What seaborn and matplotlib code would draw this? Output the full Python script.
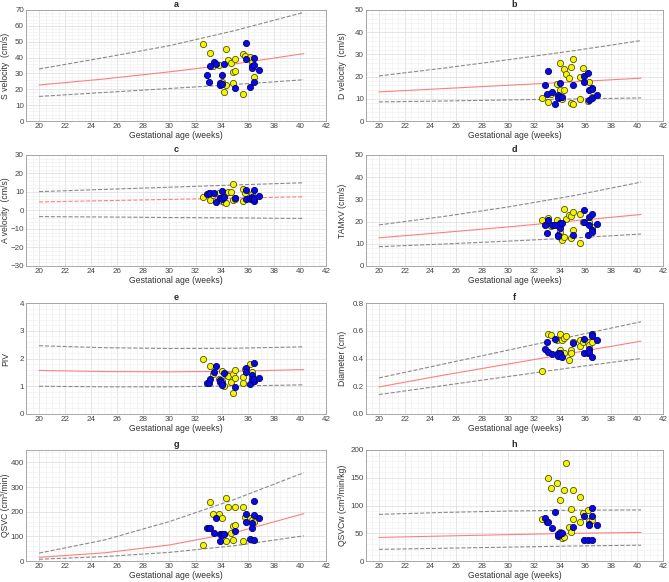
import numpy as np
import pandas as pd
import seaborn as sns
import matplotlib.pyplot as plt
from matplotlib.ticker import AutoMinorLocator, MultipleLocator

# gestational ages of the two groups (weeks)
x_yellow = [32.6, 33.1, 33.3, 33.8, 34.0, 34.0, 34.2, 34.3, 34.3, 34.5, 34.7,
            34.9, 34.9, 35.0, 35.0, 35.6, 35.6, 35.8, 36.2, 36.3, 36.5]
x_blue = [32.9, 33.0, 33.1, 33.4, 33.6, 33.9, 33.9, 34.0, 34.0, 34.2,
          35.0, 35.9, 35.9, 36.2, 36.3, 36.3, 36.5, 36.5, 36.5, 36.9]

# reference curve ages
ref_age = [20, 25, 30, 35, 40.3]

# a: S velocity
a_yellow = [48.5, 43, 34.5, 35.5, 24.5, 23.5, 18, 45.5, 23, 38.5, 36.5,
            31, 24, 31.5, 39, 42, 17, 41, 40.5, 37.5, 28]
a_blue = [29, 24.5, 35, 37, 36, 24, 22.5, 29, 23.5, 36,
          20.5, 49, 39, 21.5, 34.5, 33.5, 40, 35.5, 24.5, 32]
a_mean = [22.7, 26.5, 31, 36, 42.5]
a_upper = [32.8, 40, 47.5, 57, 68.5]
a_lower = [15.5, 18, 20.5, 23, 26]

# b: D velocity
b_yellow = [10.5, 8.5, 12, 16.5, 26, 14, 10, 23.5, 14, 21, 19.5,
            24.5, 8, 7.5, 28, 20, 10, 24, 9, 17.5, 11]
b_blue = [16.3, 12, 22.3, 13, 7.8, 11.5, 10.5, 17.3, 10.8, 10.8,
          16, 20.2, 17.5, 21.6, 13.8, 9.3, 14.8, 10.2, 14.2, 11.8]
b_mean = [13.1, 14.6, 16.1, 17.6, 19.3]
b_upper = [20.3, 23.8, 27.6, 31.6, 36.2]
b_lower = [8.6, 9.0, 9.5, 9.9, 10.4]

# c: A velocity
c_yellow = [7.5, 5.5, 8.5, 9.5, 5, 7, 4.5, 9.5, 4, 10, 10,
            14.5, 5.5, 6, 7, 11.5, 5, 9.5, 6, 9, 6.5]
c_blue = [9, 9.2, 9.5, 9.5, 4.5, 7, 6.5, 10.5, 6, 7.5,
          7, 11, 6, 6.5, 7.5, 6, 11, 5, 6, 7.8]
c_mean = [4.6, 5.3, 6.0, 6.7, 7.4]
c_upper = [10.2, 11.4, 12.6, 13.8, 15.0]
c_lower = [-3.3, -3.5, -3.8, -4.0, -4.3]

# d: TAMxV
d_yellow = [20.5, 21.8, 17.8, 20.8, 15.5, 13, 11.5, 25.5, 13, 21, 23,
            22.3, 12.5, 24.5, 16.2, 23.5, 10.5, 20, 19.5, 20, 17.5]
d_blue = [18.5, 15, 20.5, 18.5, 18.3, 14, 13.5, 17, 19.5, 19.5,
          14, 25, 20, 14, 22, 18.3, 23.5, 16, 15.5, 18.7]
d_mean = [12.7, 15.1, 17.6, 20.3, 23.2]
d_upper = [18.5, 22.3, 26.6, 31.6, 37.8]
d_lower = [8.7, 9.9, 11.2, 12.6, 14.4]

# e: PIV
e_yellow = [2.0, 1.73, 1.45, 1.27, 1.55, 1.2, 1.02, 1.45, 1.42, 1.37, 1.17,
            1.45, 0.75, 1.57, 1.28, 1.33, 1.12, 1.62, 1.8, 1.5, 1.2]
e_blue = [1.1, 1.1, 1.27, 1.5, 1.73, 1.22, 1.15, 1.1, 1.05, 1.47,
          0.98, 1.67, 1.52, 1.08, 1.42, 1.25, 1.83, 1.2, 1.27, 1.3]
e_mean = [1.57, 1.53, 1.52, 1.54, 1.60]
e_upper = [2.46, 2.39, 2.36, 2.37, 2.42]
e_lower = [1.0, 0.98, 0.98, 1.01, 1.05]

# f: Diameter
f_yellow = [0.31, 0.58, 0.57, 0.53, 0.58, 0.46, 0.53, 0.55, 0.44, 0.56, 0.39,
            0.46, 0.44, 0.52, 0.52, 0.53, 0.49, 0.52, 0.52, 0.5, 0.52]
f_blue = [0.47, 0.52, 0.45, 0.43, 0.54, 0.44, 0.42, 0.44, 0.43, 0.41,
          0.51, 0.54, 0.44, 0.44, 0.47, 0.45, 0.58, 0.56, 0.41, 0.53]
f_mean = [0.195, 0.28, 0.36, 0.44, 0.525]
f_upper = [0.26, 0.36, 0.46, 0.56, 0.665]
f_lower = [0.14, 0.205, 0.27, 0.335, 0.40]

# g: QSVC
g_yellow = [65, 240, 192, 192, 173, 108, 108, 255, 82, 218, 115,
            143, 87, 218, 145, 218, 83, 178, 175, 165, 158]
g_blue = [135, 132, 135, 113, 175, 82, 110, 108, 105, 108,
          120, 192, 160, 90, 155, 132, 242, 187, 85, 173]
g_mean = [15, 33, 65, 115, 192]
g_upper = [32, 85, 160, 250, 358]
g_lower = [7, 18, 35, 62, 102]

# h: QSVCw
h_yellow = [75, 150, 132, 140, 110, 53, 42, 128, 44, 176, 62,
            94, 53, 128, 75, 115, 71, 87, 91, 72, 74]
h_blue = [77, 70, 71, 60, 88, 45, 48, 50, 49, 50,
          62, 38, 81, 37, 67, 64, 96, 81, 37, 65]
h_mean = [42.5, 45, 47.5, 49.8, 51.5]
h_upper = [84, 87.5, 90, 91.5, 92]
h_lower = [21, 23, 25, 27, 28.5]

panels = [
    ("a", "S velocity  (cm/s)", a_yellow, a_blue, a_mean, a_upper, a_lower, (0, 70), 10),
    ("b", "D velocity  (cm/s)", b_yellow, b_blue, b_mean, b_upper, b_lower, (0, 50), 10),
    ("c", "A velocity  (cm/s)", c_yellow, c_blue, c_mean, c_upper, c_lower, (-30, 30), 10),
    ("d", "TAMxV (cm/s)", d_yellow, d_blue, d_mean, d_upper, d_lower, (0, 50), 10),
    ("e", "PIV", e_yellow, e_blue, e_mean, e_upper, e_lower, (0, 4), 1),
    ("f", "Diameter (cm)", f_yellow, f_blue, f_mean, f_upper, f_lower, (0, 0.8), 0.2),
    ("g", "QSVC (cm³/min)", g_yellow, g_blue, g_mean, g_upper, g_lower, (0, 450), 100),
    ("h", "QSVCw (cm³/min/kg)", h_yellow, h_blue, h_mean, h_upper, h_lower, (0, 200), 50),
]

sns.set_style("white")
plt.rcParams['font.family'] = ['Liberation Sans', 'DejaVu Sans']

fig = plt.figure(figsize=(6.69, 5.82), dpi=100)
W, H = 669, 582
lefts = [26, 366]
widths = [300, 297]
label_x = [10, 347]
tops = [10, 155, 303, 450]
height = 111

for i, (lab, ylab, yy, yb, ym, yu, yl, ylim, ystep) in enumerate(panels):
    r, c = divmod(i, 2)
    ax = fig.add_axes([lefts[c] / W, 1 - (tops[r] + height) / H, widths[c] / W, height / H])
    ref = pd.DataFrame({"age": ref_age, "mean": ym, "upper": yu, "lower": yl})
    mean_style = "--" if lab == "c" else "-"
    sns.lineplot(data=ref, x="age", y="upper", ax=ax, color="#8a8a8a", lw=0.8, linestyle="--")
    sns.lineplot(data=ref, x="age", y="lower", ax=ax, color="#8a8a8a", lw=0.8, linestyle="--")
    sns.lineplot(data=ref, x="age", y="mean", ax=ax, color="#ff7f7f", lw=0.8, linestyle=mean_style)
    dy = pd.DataFrame({"age": x_yellow, "val": yy})
    db = pd.DataFrame({"age": x_blue, "val": yb})
    sns.scatterplot(data=dy, x="age", y="val", ax=ax, color="#f5f500", edgecolor="#555500",
                    s=20, linewidth=0.6, zorder=3)
    sns.scatterplot(data=db, x="age", y="val", ax=ax, color="#0a0adc", edgecolor="#000080",
                    s=20, linewidth=0.6, zorder=3)
    ax.set_xlim(19, 42)
    ax.set_ylim(*ylim)
    ax.xaxis.set_major_locator(MultipleLocator(2))
    ax.yaxis.set_major_locator(MultipleLocator(ystep))
    ax.xaxis.set_minor_locator(AutoMinorLocator(4))
    ax.yaxis.set_minor_locator(AutoMinorLocator(5))
    ax.grid(which="major", color="#dcdcdc", lw=0.5)
    ax.grid(which="minor", color="#eeeeee", lw=0.4)
    ax.set_axisbelow(True)
    ax.tick_params(axis="both", which="both", labelsize=5.8, colors="#444444", length=0, pad=1.5)
    for s in ax.spines.values():
        s.set_color("#9a9a9a")
        s.set_linewidth(0.6)
    ax.set_xlabel("Gestational age (weeks)", fontsize=6.2, color="#333333", labelpad=1)
    ax.set_ylabel(ylab, fontsize=6.2, color="#333333")
    ax.yaxis.set_label_coords((label_x[c] - lefts[c]) / widths[c], 0.5)
    ax.set_title(lab, fontsize=6.5, fontweight="bold", pad=2)

fig.savefig("out.png", dpi=100)
